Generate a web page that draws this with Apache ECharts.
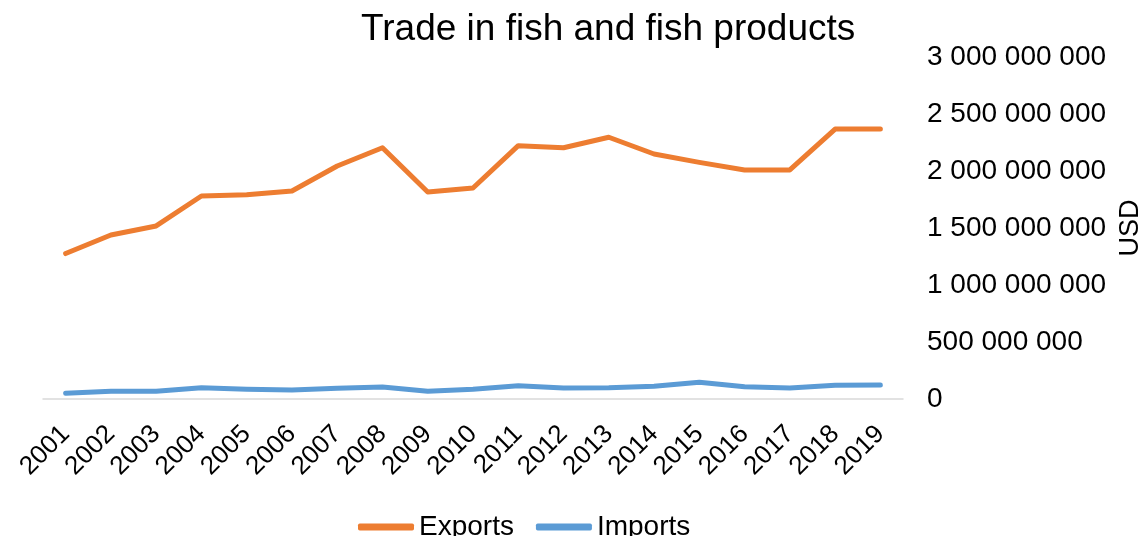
<!DOCTYPE html>
<html>
<head>
<meta charset="utf-8">
<script src="https://cdn.jsdelivr.net/npm/echarts@6/dist/echarts.min.js"></script>
<style>
html,body{margin:0;padding:0;background:#fff;}
#c{width:1140px;height:536px;}
</style>
</head>
<body>
<div id="c"></div>
<script>
const years = ['2001','2002','2003','2004','2005','2006','2007','2008','2009','2010','2011','2012','2013','2014','2015','2016','2017','2018','2019'];
const exportsUSD = [1276000000,1439000000,1518000000,1781000000,1792000000,1825000000,2044000000,2204000000,1816000000,1851000000,2222000000,2204000000,2296000000,2149000000,2076000000,2009000000,2009000000,2368000000,2368000000];
const importsUSD = [50000000,68000000,68000000,99000000,85000000,79000000,94000000,105000000,68000000,85000000,117000000,96000000,99000000,111000000,146000000,108000000,96000000,120000000,123000000];
const seriesNames = ['Exports','Imports'];
const titleText = 'Trade in fish and fish products';
const yAxisName = 'USD';

const font = 'Arial, "Liberation Sans", sans-serif';
const chart = echarts.init(document.getElementById('c'));
chart.setOption({
  animation: false,
  backgroundColor: '#ffffff',
  title: {
    text: titleText,
    left: 361,
    top: 11,
    padding: 0,
    textStyle: {fontFamily: font, fontSize: 37, fontWeight: 'normal', color: '#000'}
  },
  legend: {
    data: seriesNames,
    left: 353,
    top: 508,
    itemWidth: 56,
    itemHeight: 7,
    itemGap: 22,
    icon: 'roundRect',
    textStyle: {fontFamily: font, fontSize: 28, color: '#000'}
  },
  grid: {left: 43, right: 237, top: 57, bottom: 137, outerBoundsMode: 'none', containLabel: false},
  xAxis: {
    type: 'category',
    data: years,
    boundaryGap: true,
    axisLine: {lineStyle: {color: '#d9d9d9', width: 1.5}},
    axisTick: {show: false},
    axisLabel: {rotate: 45, margin: 31, interval: 0, fontFamily: font, fontSize: 26, color: '#000'}
  },
  yAxis: {
    type: 'value',
    position: 'right',
    min: 0,
    max: 3000000000,
    interval: 500000000,
    name: yAxisName,
    nameLocation: 'middle',
    nameRotate: 90,
    nameGap: 212,
    nameTextStyle: {fontFamily: font, fontSize: 27, color: '#000'},
    splitLine: {show: false},
    axisLine: {show: false},
    axisTick: {show: false},
    axisLabel: {
      margin: 24,
      fontFamily: font, fontSize: 28, color: '#000',
      formatter: v => String(Math.round(v)).replace(/\B(?=(\d{3})+(?!\d))/g, ' ')
    }
  },
  series: [
    {name: seriesNames[0], type: 'line', data: exportsUSD, symbol: 'none', lineStyle: {color: '#ED7D31', width: 5, cap: 'round', join: 'round'}, itemStyle: {color: '#ED7D31'}},
    {name: seriesNames[1], type: 'line', data: importsUSD, symbol: 'none', lineStyle: {color: '#5B9BD5', width: 5, cap: 'round', join: 'round'}, itemStyle: {color: '#5B9BD5'}}
  ]
});
</script>
</body>
</html>
